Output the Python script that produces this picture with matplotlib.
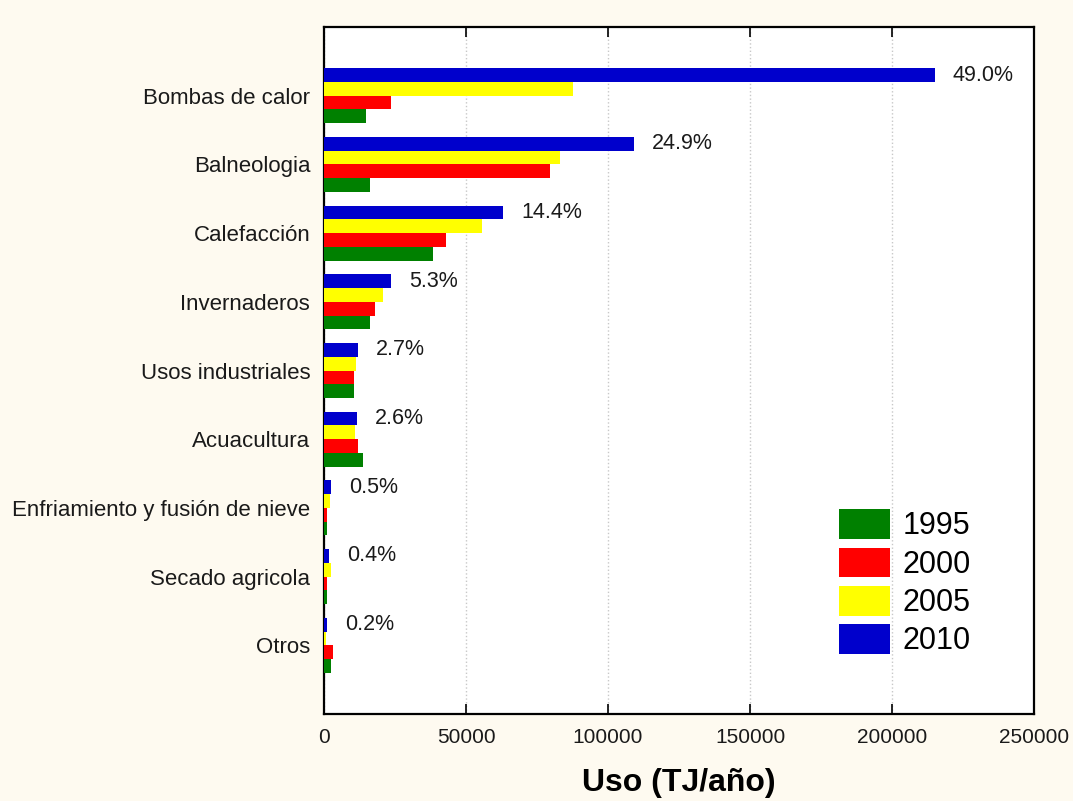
import matplotlib
matplotlib.use("Agg")
import matplotlib.pyplot as plt
import numpy as np

categories = ["Bombas de calor", "Balneologia", "Calefacción", "Invernaderos",
              "Usos industriales", "Acuacultura", "Enfriamiento y fusión de nieve",
              "Secado agricola", "Otros"]
years = ["1995", "2000", "2005", "2010"]
uso_1995 = [14800, 16200, 38400, 16200, 10600, 13700, 1100, 1100, 2500]
uso_2000 = [23600, 79600, 43000, 18000, 10600, 12000, 1100, 1100, 3200]
uso_2005 = [87700, 83100, 55600, 20800, 11300, 10900, 2100, 2400, 700]
uso_2010 = [215000, 109200, 63000, 23600, 12000, 11600, 2500, 1800, 1000]
share_2010 = ["49.0%", "24.9%", "14.4%", "5.3%", "2.7%", "2.6%", "0.5%", "0.4%", "0.2%"]
xticks = [0, 50000, 100000, 150000, 200000, 250000]

plt.rcParams['font.family'] = ['Liberation Sans', 'DejaVu Sans']

fig = plt.figure(figsize=(10.73, 8.01), dpi=100, facecolor='#FEFAF0')
ax = fig.add_axes([0.302, 0.1086, 0.6617, 0.8577])
ax.set_facecolor('white')

y = np.arange(len(categories))
h = 0.2
series = [uso_1995, uso_2000, uso_2005, uso_2010]
colors = ['#008000', '#FF0000', '#FFFF00', '#0000CC']
offsets = [0.3, 0.1, -0.1, -0.3]
for vals, c, off, lab in zip(series, colors, offsets, years):
    ax.barh(y + off, vals, height=h, color=c, label=lab, zorder=3)

for yi, v, s in zip(y, uso_2010, share_2010):
    ax.annotate(s, (v, yi - 0.3), xytext=(13, 0), textcoords='offset points',
                ha='left', va='center', fontsize=15.5, color='#1a1a1a')

ax.set_xlim(0, 250000)
ax.set_ylim(len(categories), -1)
ax.set_xticks(xticks)
ax.set_xticklabels([str(t) for t in xticks])
ax.set_yticks(y)
ax.set_yticklabels(categories)
ax.tick_params(axis='x', direction='in', top=True, bottom=True, length=7, width=1.2,
               labelsize=15, pad=10, colors='black', labelcolor='#1a1a1a')
ax.tick_params(axis='y', length=0, labelsize=16, pad=10, labelcolor='#1a1a1a')
ax.xaxis.grid(True, linestyle=':', color='#c8c8c8', linewidth=1, zorder=0)
for sp in ax.spines.values():
    sp.set_linewidth(1.6)
    sp.set_color('black')

ax.set_xlabel("Uso (TJ/año)", fontsize=23, fontweight='bold', labelpad=15)

leg = ax.legend(loc='lower right', bbox_to_anchor=(0.928, 0.066), frameon=False,
                fontsize=22, handlelength=1.67, handleheight=1.12, labelspacing=0.2,
                handletextpad=0.4, borderaxespad=0)

fig.savefig("out.png", dpi=100, facecolor=fig.get_facecolor())
